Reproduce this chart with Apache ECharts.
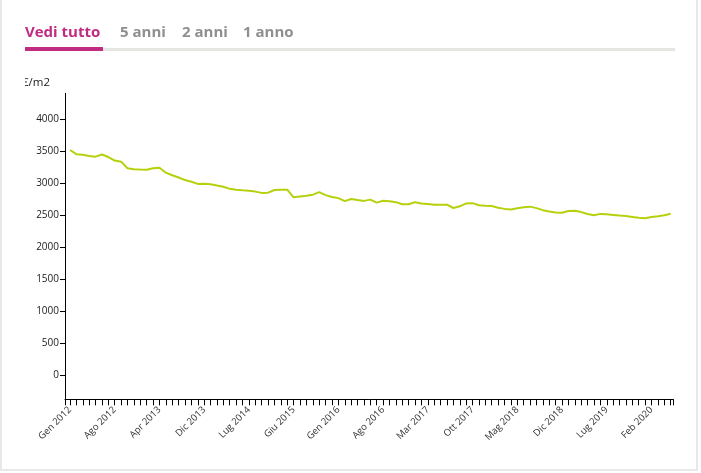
<!DOCTYPE html>
<html><head><meta charset="utf-8">
<script src="https://cdn.jsdelivr.net/npm/echarts@6/dist/echarts.min.js"></script>
<style>html,body{margin:0;padding:0;background:#fff;}#c{width:701px;height:473px;}</style>
</head><body><div id="c"></div>
<script>
const tabs = ['Vedi tutto', '5 anni', '2 anni', '1 anno'];
const unitLabel = '€/m2';
const categories = [
 'Gen 2012','Feb 2012','Mar 2012','Apr 2012','Mag 2012','Giu 2012','Lug 2012','Ago 2012','Set 2012','Ott 2012','Nov 2012','Dic 2012',
 'Feb 2013','Mar 2013','Apr 2013','Mag 2013','Giu 2013','Lug 2013','Ago 2013','Ott 2013','Nov 2013','Dic 2013',
 'Gen 2014','Feb 2014','Mar 2014','Apr 2014','Mag 2014','Giu 2014','Lug 2014','Ago 2014','Ott 2014','Dic 2014',
 'Feb 2015','Apr 2015','Mag 2015','Giu 2015','Lug 2015','Ago 2015','Set 2015','Ott 2015','Nov 2015','Dic 2015',
 'Gen 2016','Feb 2016','Mar 2016','Apr 2016','Mag 2016','Giu 2016','Lug 2016','Ago 2016','Set 2016','Ott 2016','Nov 2016','Dic 2016',
 'Gen 2017','Feb 2017','Mar 2017','Apr 2017','Mag 2017','Giu 2017','Lug 2017','Ago 2017','Set 2017','Ott 2017','Nov 2017','Dic 2017',
 'Gen 2018','Feb 2018','Mar 2018','Apr 2018','Mag 2018','Giu 2018','Lug 2018','Ago 2018','Set 2018','Ott 2018','Nov 2018','Dic 2018',
 'Gen 2019','Feb 2019','Mar 2019','Apr 2019','Mag 2019','Giu 2019','Lug 2019','Ago 2019','Set 2019','Ott 2019','Nov 2019','Dic 2019',
 'Gen 2020','Feb 2020','Mar 2020','Apr 2020','Mag 2020'
];
const prices = [
 3520,3455,3447,3428,3416,3450,3410,3355,3338,3234,3219,3215,
 3213,3234,3244,3166,3125,3090,3050,3025,2990,2994,
 2986,2965,2945,2913,2900,2890,2882,2870,2850,2853,
 2895,2900,2900,2781,2795,2805,2822,2862,2815,2785,
 2768,2722,2755,2738,2725,2745,2698,2728,2720,2705,2672,2672,
 2705,2683,2675,2666,2666,2666,2614,2640,2685,2690,2658,2650,
 2645,2618,2600,2592,2610,2625,2635,2612,2580,2558,2545,2541,
 2567,2572,2550,2520,2500,2522,2515,2505,2495,2489,2475,2460,
 2455,2474,2485,2500,2525
];
const yTicks = [0,500,1000,1500,2000,2500,3000,3500,4000];
const labelEvery = 7;

const n = categories.length;
const xTickVals = [-0.78];
for (let i = 0; i < n; i++) xTickVals.push(i);
xTickVals.push(n - 1 + 0.41);
const xLabelVals = [];
for (let i = 0; i < n; i += labelEvery) xLabelVals.push(i);

const chart = echarts.init(document.getElementById('c'), null, {renderer: 'canvas'});
const font = '"Open Sans", "DejaVu Sans", sans-serif';
const tabX = [25, 120, 182, 243];
const graphics = [
  {type:'rect', shape:{x:1, y:-10, width:696, height:480}, style:{fill:'none', stroke:'#e8e8e6', lineWidth:2}, silent:true, z:1},
  {type:'rect', shape:{x:25, y:48, width:650, height:3}, style:{fill:'#e6e6e1'}, z:1},
  {type:'rect', shape:{x:25, y:47, width:78, height:4}, style:{fill:'#c02c82'}, z:2},
  {type:'text', left:22, top:77, style:{text:unitLabel, font:'11.5px ' + font, fill:'#222'}, z:1},
  {type:'rect', shape:{x:3, y:74, width:22, height:22}, style:{fill:'#fff'}, z:50}
];
tabs.forEach((t, i) => {
  graphics.push({type:'text', left:tabX[i], top:25, style:{text:t, font:'bold 15px ' + font, fill: i === 0 ? '#c02c82' : '#8f8f8f'}, z:1});
});

chart.setOption({
  animation: false,
  grid: {left: 65, right: 27.7, top: 93.3, bottom: 73.7, containLabel: false},
  graphic: {elements: graphics},
  xAxis: {
    type: 'value', min: -0.78, max: n - 1 + 0.41,
    splitLine: {show: false},
    axisLine: {show: true, onZero: false, lineStyle: {color: '#000', width: 1}},
    axisTick: {show: true, length: 6, lineStyle: {color: '#000', width: 1}, customValues: xTickVals},
    axisLabel: {
      customValues: xLabelVals, rotate: 45, margin: 9, fontSize: 9.5, color: '#333', fontFamily: font,
      formatter: v => categories[Math.round(v)] || ''
    }
  },
  yAxis: {
    type: 'value', min: -375, max: 4406,
    splitLine: {show: false},
    axisLine: {show: true, onZero: false, lineStyle: {color: '#000', width: 1}},
    axisTick: {show: true, length: 5, lineStyle: {color: '#000', width: 1}, customValues: yTicks},
    axisLabel: {customValues: yTicks, margin: 6, fontSize: 10, color: '#222', fontFamily: font, formatter: v => String(v)}
  },
  series: [{
    type: 'line',
    data: prices.map((v, i) => [i, v]),
    showSymbol: false,
    lineStyle: {color: '#b6d10c', width: 2},
    itemStyle: {color: '#b6d10c'}
  }]
});
</script></body></html>
